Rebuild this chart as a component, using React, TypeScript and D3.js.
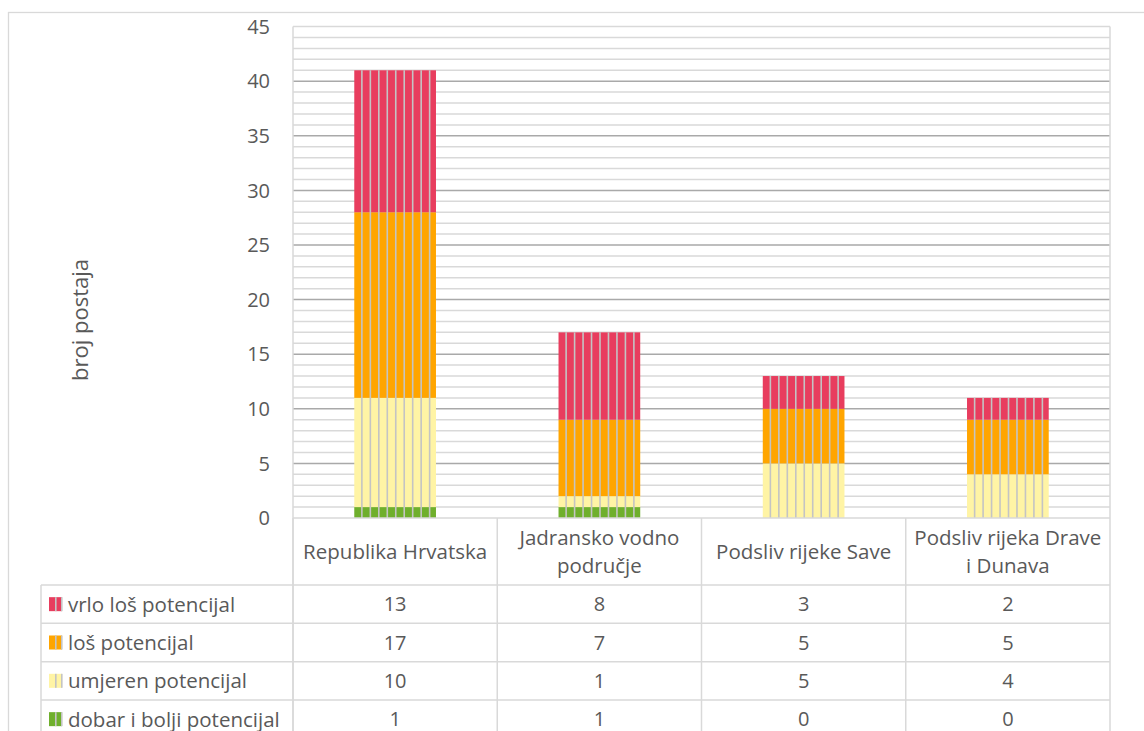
import React from "react";
import * as d3 from "d3";

// Categories (columns of the chart and of the data table)
const categories = [
  "Republika Hrvatska",
  "Jadransko vodno područje",
  "Podsliv rijeke Save",
  "Podsliv rijeka Drave i Dunava",
];
// Wrapped axis labels for the category header cells
const categoryLines = [
  ["Republika Hrvatska"],
  ["Jadransko vodno", "područje"],
  ["Podsliv rijeke Save"],
  ["Podsliv rijeka Drave", "i Dunava"],
];

// Series values (number of stations by ecological potential)
const vrloLos = [13, 8, 3, 2];
const los = [17, 7, 5, 5];
const umjeren = [10, 1, 5, 4];
const dobar = [1, 1, 0, 0];

const seriesNames = [
  "vrlo loš potencijal",
  "loš potencijal",
  "umjeren potencijal",
  "dobar i bolji potencijal",
];
const seriesValues = [vrloLos, los, umjeren, dobar];
const seriesColors = ["#E83D5E", "#FFA500", "#FFF4A5", "#6FAF2C"];

const yTicks = [0, 5, 10, 15, 20, 25, 30, 35, 40, 45];
const yTitle = "broj postaja";

const W = 1144;
const H = 731;
const plot = { left: 293, right: 1110, top: 26.6, bottom: 518 };
const tableLeft = 41;
const headerBottom = 585;
const rowH = 38.33;
const FONT = "'Open Sans', 'Noto Sans', sans-serif";
const TEXT = "#595959";
const GRID = "#d9d9d9";
const MAJOR = "#a9a9a9";
const STRIPE = "#c4c4c4";

export default function App() {
  const y = d3.scaleLinear().domain([0, 45]).range([plot.bottom, plot.top]);
  const x = d3
    .scaleBand<string>()
    .domain(categories)
    .range([plot.left, plot.right])
    .paddingInner(0.6)
    .paddingOuter(0.3);
  const step = x.step();

  // Stack bottom-up: dobar, umjeren, loš, vrlo loš
  const keys = [3, 2, 1, 0];
  const rows = categories.map((c, i) => {
    const r: Record<string, number> = {};
    keys.forEach((k) => (r[String(k)] = seriesValues[k][i]));
    return r;
  });
  const stacked = d3.stack<Record<string, number>>().keys(keys.map(String))(rows);

  const minor = d3.range(1, 45).filter((v) => v % 5 !== 0);
  const major = d3.range(5, 45, 5);

  const colEdges = categories.map((c) => (x(c) as number) - step * 0.3);
  const colEdgesAll = [...colEdges, plot.right];

  return (
    <svg
      width={W}
      height={H}
      style={{ position: "absolute", left: 0, top: 0, background: "#fff" }}
      fontFamily={FONT}
    >
      <rect x={8.5} y={12.5} width={1300} height={900} fill="#fff" stroke={GRID} strokeWidth={1.3} />

      {/* gridlines */}
      {minor.map((v) => (
        <line key={"mi" + v} x1={plot.left} x2={plot.right} y1={y(v)} y2={y(v)} stroke={GRID} strokeWidth={1.5} />
      ))}
      {major.map((v) => (
        <line key={"ma" + v} x1={plot.left} x2={plot.right} y1={y(v)} y2={y(v)} stroke={MAJOR} strokeWidth={1.5} />
      ))}
      <line x1={plot.left} x2={plot.right} y1={y(45)} y2={y(45)} stroke={GRID} strokeWidth={1.5} />
      <line x1={plot.right} x2={plot.right} y1={y(45)} y2={plot.bottom} stroke={GRID} strokeWidth={1.5} />

      {/* stacked bars */}
      {stacked.map((layer) => {
        const k = Number(layer.key);
        return layer.map((d, i) => {
          const c = categories[i];
          const x0 = x(c) as number;
          const h = y(d[0]) - y(d[1]);
          if (h <= 0) return null;
          return (
            <rect key={layer.key + "-" + i} x={x0} y={y(d[1])} width={x.bandwidth()} height={h} fill={seriesColors[k]} />
          );
        });
      })}
      {/* vertical stripe texture */}
      {categories.map((c, i) => {
        const x0 = x(c) as number;
        const total = vrloLos[i] + los[i] + umjeren[i] + dobar[i];
        const xs = d3.range(x0 + 7.6, x0 + x.bandwidth() - 3, 8.47);
        return xs.map((sx, j) => (
          <line key={c + j} x1={sx} x2={sx} y1={y(total)} y2={y(0)} stroke={STRIPE} strokeWidth={1.6} />
        ));
      })}

      {/* plot area left border / axis line */}
      <line x1={plot.left} x2={plot.left} y1={y(45)} y2={H + 10} stroke={GRID} strokeWidth={1.5} />
      <line x1={plot.left} x2={plot.right} y1={plot.bottom} y2={plot.bottom} stroke={GRID} strokeWidth={1.5} />

      {/* y tick labels */}
      {yTicks.map((v) => (
        <text key={"yt" + v} x={270} y={y(v)} dy="0.36em" textAnchor="end" fontSize={20} fill={TEXT}>
          {v}
        </text>
      ))}
      <text transform={`translate(88, 320) rotate(-90)`} textAnchor="middle" fontSize={22} fill={TEXT}>
        {yTitle}
      </text>

      {/* data table grid */}
      {colEdgesAll.map((cx, i) => (
        <line key={"tv" + i} x1={cx} x2={cx} y1={plot.bottom} y2={H + 10} stroke={GRID} strokeWidth={1.5} />
      ))}
      <line x1={tableLeft} x2={tableLeft} y1={headerBottom} y2={H + 10} stroke={GRID} strokeWidth={1.5} />
      {seriesNames.map((s, r) => (
        <line
          key={"th" + r}
          x1={tableLeft}
          x2={plot.right}
          y1={headerBottom + r * rowH}
          y2={headerBottom + r * rowH}
          stroke={GRID}
          strokeWidth={1.5}
        />
      ))}

      {/* category header */}
      {categories.map((c, i) => {
        const cx = (x(c) as number) + x.bandwidth() / 2;
        const lines = categoryLines[i];
        const mid = (plot.bottom + headerBottom) / 2;
        const lh = 28;
        return lines.map((t, j) => (
          <text
            key={c + "l" + j}
            x={cx}
            y={mid + (j - (lines.length - 1) / 2) * lh}
            dy="0.36em"
            textAnchor="middle"
            fontSize={20.5}
            fill={TEXT}
          >
            {t}
          </text>
        ));
      })}

      {/* table rows: legend key, series name, values */}
      {seriesNames.map((s, r) => {
        const cy = headerBottom + (r + 0.5) * rowH;
        return (
          <g key={"row" + r}>
            <rect x={49} y={cy - 7} width={13} height={14} fill={seriesColors[r]} />
            <rect x={55} y={cy - 7} width={1.6} height={14} fill={STRIPE} />
            <rect x={61} y={cy - 7} width={1.6} height={14} fill={STRIPE} />
            <text x={68} y={cy} dy="0.36em" fontSize={20.5} fill={TEXT}>
              {s}
            </text>
            {categories.map((c, i) => (
              <text
                key={c + r}
                x={(x(c) as number) + x.bandwidth() / 2}
                y={cy}
                dy="0.36em"
                textAnchor="middle"
                fontSize={20}
                fill={TEXT}
              >
                {seriesValues[r][i]}
              </text>
            ))}
          </g>
        );
      })}
    </svg>
  );
}
